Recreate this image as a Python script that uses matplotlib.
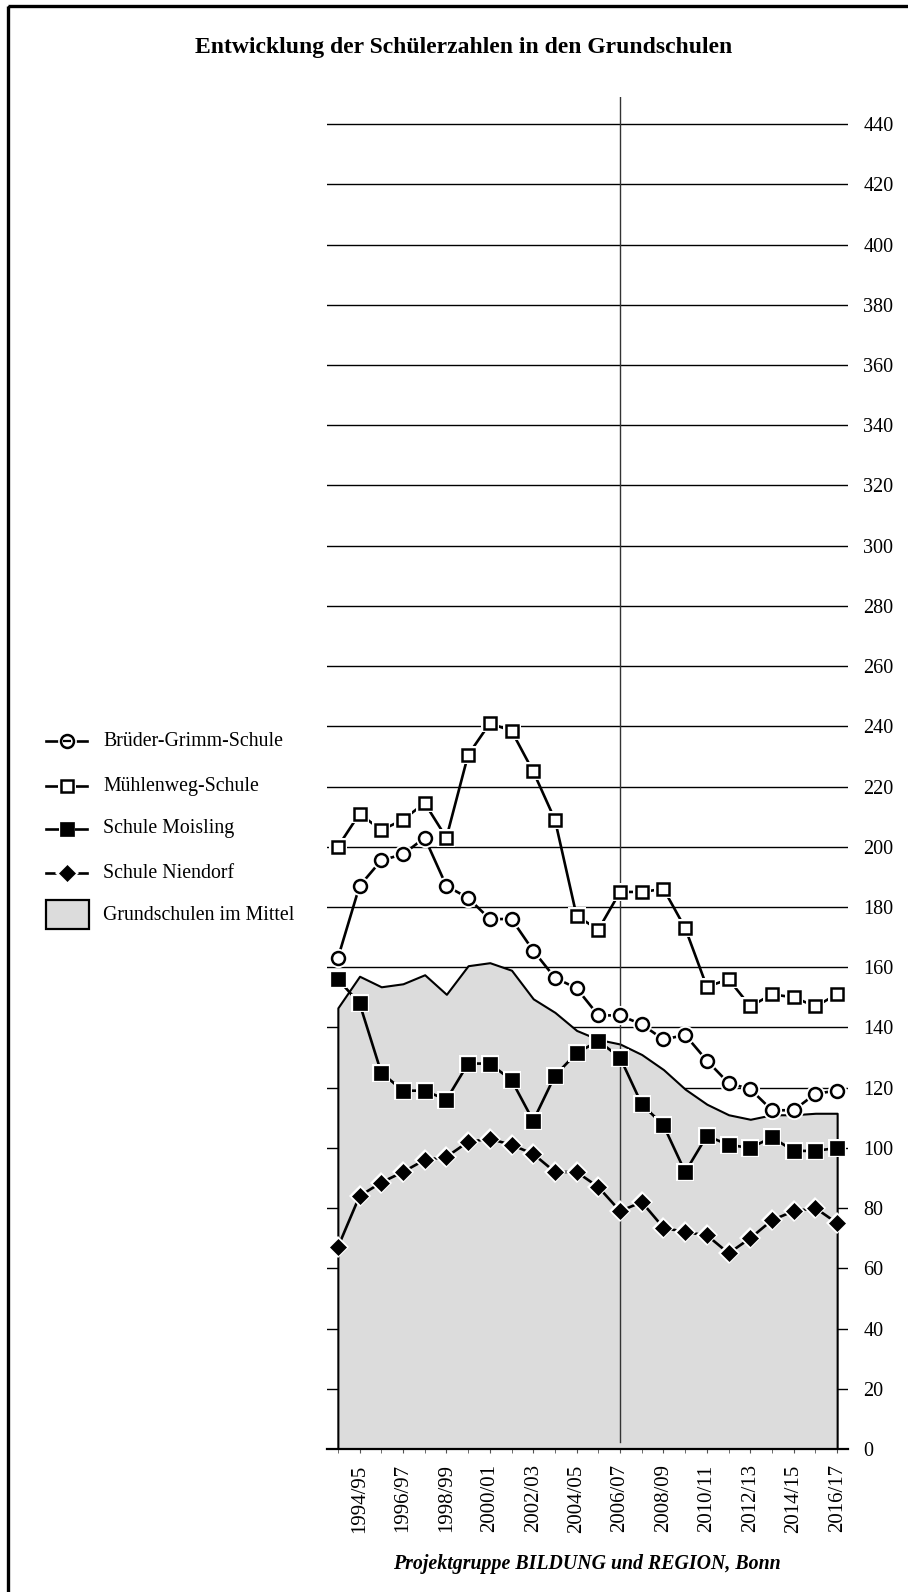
import matplotlib
matplotlib.use("Agg")
import matplotlib.pyplot as plt
from matplotlib.markers import MarkerStyle
from matplotlib.patches import Rectangle
from matplotlib.transforms import Affine2D
import numpy as np

plt.rcParams['font.family'] = ['Liberation Serif', 'DejaVu Serif']

# school years 1993/94 .. 2016/17
years = ["1993/94", "1994/95", "1995/96", "1996/97", "1997/98", "1998/99",
         "1999/00", "2000/01", "2001/02", "2002/03", "2003/04", "2004/05",
         "2005/06", "2006/07", "2007/08", "2008/09", "2009/10", "2010/11",
         "2011/12", "2012/13", "2013/14", "2014/15", "2015/16", "2016/17"]

grimm = [163, 187, 195.5, 197.5, 203, 187, 183, 176, 176, 165.5, 156.5, 153,
         144, 144, 141, 136, 137.5, 129, 121.5, 119.5, 112.5, 112.5, 118, 119]
muehlenweg = [200, 211, 205.5, 209, 214.5, 203, 230.5, 241, 238.5, 225, 209, 177,
              172.5, 185, 185, 186, 173, 153.5, 156, 147, 151, 150, 147, 151]
moisling = [156, 148, 125, 119, 119, 116, 128, 128, 122.5, 109, 124, 131.5,
            135.5, 130, 114.5, 107.5, 92, 104, 101, 100, 103.5, 99, 99, 100]
niendorf = [67, 84, 88.5, 92, 96, 97, 102, 103, 101, 98, 92, 92,
            87, 79, 82, 73.5, 72, 71, 65, 70, 76, 79, 80, 75]
mittel = [146.5, 157, 153.5, 154.5, 157.5, 151, 160.5, 161.5, 159, 149.5, 145, 139,
          136, 134.5, 131, 126, 119.5, 114.5, 111, 109.5, 111, 111, 111.5, 111.5]

labels = ["Brüder-Grimm-Schule", "Mühlenweg-Schule", "Schule Moisling",
          "Schule Niendorf", "Grundschulen im Mittel"]

W, H = 908, 1592
fig = plt.figure(figsize=(W / 100, H / 100), dpi=100)
ax = fig.add_axes([327 / W, 1 - 1449 / H, 521 / W, (1449 - 97) / H])

x = np.arange(len(years))
ax.set_xlim(-0.5, 23.5)
ax.set_ylim(0, 449)

# grid lines behind the grey area
ax.set_axisbelow(True)
ax.set_yticks(np.arange(0, 441, 20))
ax.yaxis.grid(True, color="black", lw=1.0)
ax.yaxis.tick_right()
ax.tick_params(axis="y", length=0, pad=11, labelsize=14.5)
for s in ["left", "right", "top"]:
    ax.spines[s].set_visible(False)
ax.spines["bottom"].set_linewidth(1.6)

ax.set_xticks(x[1::2])
ax.set_xticklabels(years[1::2], rotation=90, fontsize=15)
ax.set_xticks(x, minor=True)
ax.tick_params(axis="x", which="major", length=3, pad=8, color="#555555")
ax.tick_params(axis="x", which="minor", length=3, color="#555555")

ax.fill_between(x, 0, mittel, facecolor="#dcdcdc", edgecolor="black", lw=1.5, zorder=2)
ax.axvline(13, ymin=0.005, ymax=1, color="#333333", lw=1.0, zorder=2.5)

def series(vals, marker, ms, face, halo, mew=1.8, z=3):
    ax.plot(x, vals, color="black", lw=1.9, zorder=z)
    ax.plot(x, vals, ls="none", marker=marker, ms=halo, mfc="white", mec="white", mew=0, zorder=z + 0.1)
    ax.plot(x, vals, ls="none", marker=marker, ms=ms, mfc=face, mec="black", mew=mew, zorder=z + 0.2)

series(niendorf, "D", 8.5, "black", 11, mew=0.5, z=3)
series(moisling, "s", 10, "black", 13, mew=0.5, z=3.3)
series(grimm, "o", 9.3, "white", 13.8, z=3.6)
series(muehlenweg, "s", 8.8, "white", 13.5, z=3.9)

# small dash inside the circles, along the line
pts = ax.transData.transform(np.column_stack([x, grimm]))
for i in range(len(x)):
    a = pts[max(i - 1, 0)]
    b = pts[min(i + 1, len(x) - 1)]
    ang = np.degrees(np.arctan2(b[1] - a[1], b[0] - a[0]))
    m = MarkerStyle("_", transform=Affine2D().rotate_deg(ang))
    ax.plot(x[i], grimm[i], ls="none", marker=m, ms=5.5, mec="black", mew=1.6, zorder=3.8)

# overlay in pixel coordinates for frame and legend
ov = fig.add_axes([0, 0, 1, 1], zorder=-1)
ov.set_xlim(0, W)
ov.set_ylim(H, 0)
ov.axis("off")
ov.add_patch(Rectangle((8, 6), 2000, 3000, fill=False, lw=2.4, ec="black"))

leg_y = [741, 786, 829, 873]
leg_style = [("o", 9.3, "white", 1.8), ("s", 8.8, "white", 1.8),
             ("s", 10, "black", 0.5), ("D", 8.5, "black", 0.5)]
for yy, (mk, ms, fc, mw), lab in zip(leg_y, leg_style, labels[:4]):
    ov.plot([46, 87], [yy, yy], color="black", lw=1.9)
    ov.plot(66.5, yy, marker=mk, ms=13.5 if fc == "white" else 12, mfc="white", mec="white", mew=0)
    ov.plot(66.5, yy, marker=mk, ms=ms, mfc=fc, mec="black", mew=mw)
    if mk == "o":
        ov.plot(66.5, yy, marker="_", ms=5.5, mec="black", mew=1.6)
    ov.text(103, yy, lab, fontsize=14.3, va="center", ha="left")
ov.add_patch(Rectangle((46, 900), 43, 29, facecolor="#dcdcdc", edgecolor="black", lw=1.6))
ov.text(103, 915, labels[4], fontsize=14.3, va="center", ha="left")

fig.text(464 / W, 1 - 48 / H, "Entwicklung der Schülerzahlen in den Grundschulen",
         ha="center", va="center", fontsize=17, fontweight="bold")
fig.text(587 / W, 1 - 1564 / H, "Projektgruppe BILDUNG und REGION, Bonn",
         ha="center", va="center", fontsize=14.3, fontweight="bold", style="italic")

fig.savefig("out.png", dpi=100)
